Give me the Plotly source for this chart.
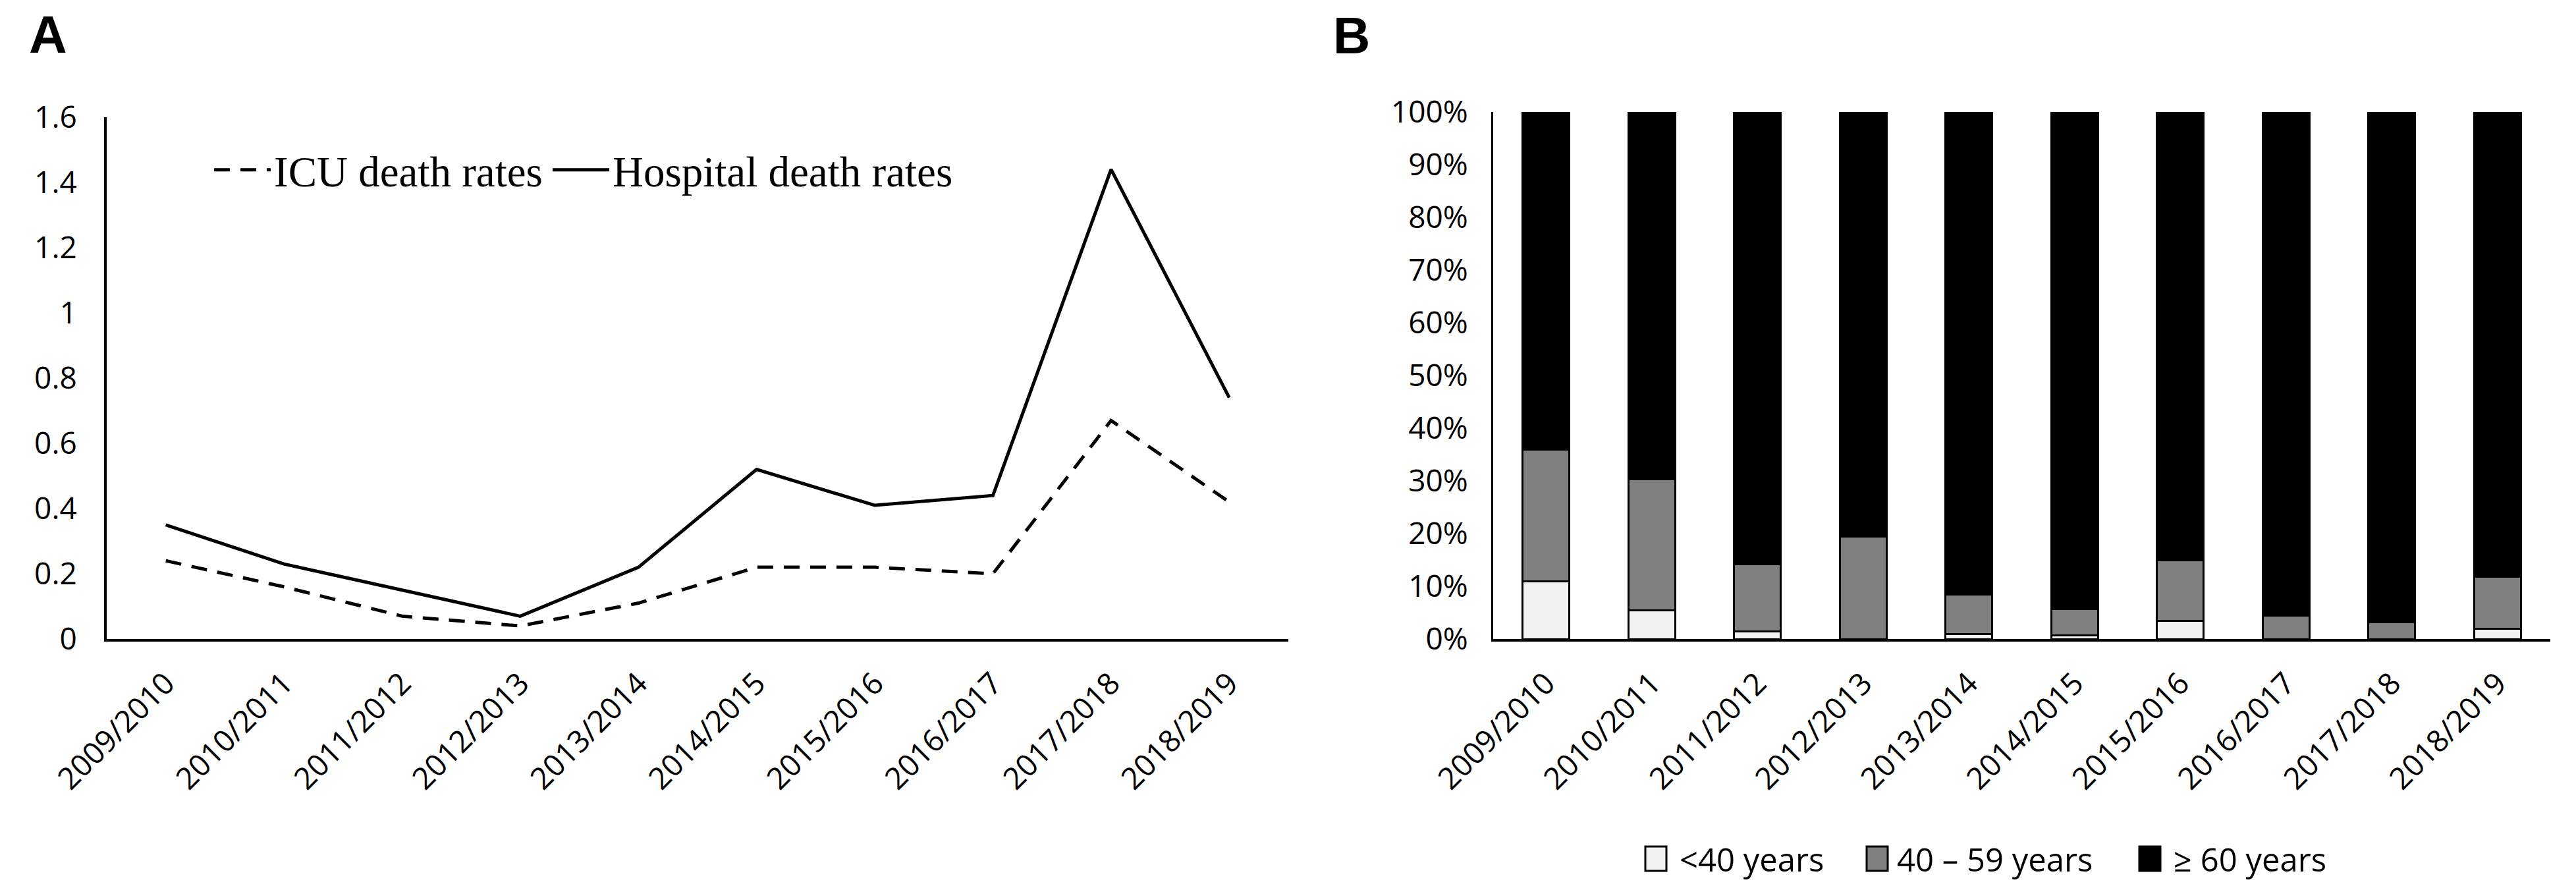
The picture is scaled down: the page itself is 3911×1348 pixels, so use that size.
import plotly.graph_objects as go

W, H = 3911, 1348

seasons = ["2009/2010", "2010/2011", "2011/2012", "2012/2013", "2013/2014",
           "2014/2015", "2015/2016", "2016/2017", "2017/2018", "2018/2019"]

icu_death_rates = [0.24, 0.16, 0.07, 0.04, 0.11, 0.22, 0.22, 0.20, 0.67, 0.42]
hospital_death_rates = [0.35, 0.23, 0.15, 0.07, 0.22, 0.52, 0.41, 0.44, 1.44, 0.74]

age_under_40 = [11.0, 5.5, 1.5, 0.0, 1.0, 0.7, 3.5, 0.0, 0.0, 2.0]
age_40_59 = [25.0, 24.8, 12.7, 19.5, 7.5, 5.0, 11.5, 4.5, 3.2, 9.8]
age_60_plus = [64.0, 69.7, 85.8, 80.5, 91.5, 94.3, 85.0, 95.5, 96.8, 88.2]

age_labels = ["<40 years", "40 \u2013 59 years", "\u2265 60 years"]
age_colors = ["#f2f2f2", "#808080", "#000000"]

SANS = "Open Sans"
SERIF = "Liberation Serif"


def px_x(p):
    return p / W


def px_y(p):
    return 1 - p / H


fig = go.Figure()

fig.add_trace(go.Scatter(
    x=seasons, y=icu_death_rates, name="ICU death rates", mode="lines",
    line=dict(color="black", width=5, dash="24px,16px"),
    xaxis="x", yaxis="y", legend="legend"))
fig.add_trace(go.Scatter(
    x=seasons, y=hospital_death_rates, name="Hospital death rates", mode="lines",
    line=dict(color="black", width=5),
    xaxis="x", yaxis="y", legend="legend2"))

for vals, lab, col in zip([age_under_40, age_40_59, age_60_plus], age_labels, age_colors):
    fig.add_trace(go.Bar(
        x=seasons, y=vals, name=lab, marker=dict(color=col, line=dict(color="black", width=3)),
        xaxis="x2", yaxis="y2", showlegend=False))

axis_common = dict(showgrid=False, zeroline=False, showline=True, linecolor="black",
                   ticks="", automargin=False,
                   tickfont=dict(family=SANS, size=46, color="black"))

legend_common = dict(orientation="h", y=px_y(250), xanchor="left", yanchor="middle",
                     itemwidth=86, font=dict(family=SERIF, size=65, color="black"),
                     bgcolor="rgba(0,0,0,0)")

fig.update_layout(
    width=W, height=H, margin=dict(l=0, r=0, t=0, b=0, autoexpand=False),
    paper_bgcolor="white", plot_bgcolor="white",
    barmode="stack", bargap=0.56,
    xaxis=dict(domain=[px_x(154), px_x(1948)], anchor="y", tickangle=-45,
               range=[-0.5, 9.5], linewidth=4, ticklabelstandoff=18, **axis_common),
    yaxis=dict(domain=[px_y(962), px_y(170)], anchor="x", range=[0, 1.6], dtick=0.2,
               linewidth=4, ticklabelstandoff=32, **axis_common),
    xaxis2=dict(domain=[px_x(2259), px_x(3864)], anchor="y2", tickangle=-45,
                range=[-0.5, 9.5], linewidth=4, ticklabelstandoff=18, **axis_common),
    yaxis2=dict(domain=[px_y(962), px_y(162)], anchor="x2", range=[0, 100], dtick=10,
                ticksuffix="%", linewidth=3, ticklabelstandoff=26, **axis_common),
    legend=dict(x=px_x(312), **legend_common),
    legend2=dict(x=px_x(826), **legend_common),
    showlegend=True,
)

# Panel letters
fig.add_annotation(text="<b>A</b>", x=px_x(34), y=px_y(44), xref="paper", yref="paper",
                   xanchor="left", yanchor="middle", showarrow=False,
                   font=dict(family="Liberation Sans", size=80, color="black"))
fig.add_annotation(text="<b>B</b>", x=px_x(2014), y=px_y(46), xref="paper", yref="paper",
                   xanchor="left", yanchor="middle", showarrow=False,
                   font=dict(family="Liberation Sans", size=78, color="black"))

# Legend for panel B (swatches + labels)
sw_left = [2490, 2826, 3240]
txt_left = [2540, 2870, 3290]
for xl, xt, lab, col in zip(sw_left, txt_left, age_labels, age_colors):
    fig.add_shape(type="rect", xref="paper", yref="paper",
                  x0=px_x(xl), x1=px_x(xl + 32), y0=px_y(1314), y1=px_y(1277),
                  fillcolor=col, line=dict(color="black", width=3))
    fig.add_annotation(text=lab, x=px_x(xt), y=px_y(1296), xref="paper", yref="paper",
                       xanchor="left", yanchor="middle", showarrow=False,
                       font=dict(family=SANS, size=49, color="black"))

fig.write_html("out.html")
